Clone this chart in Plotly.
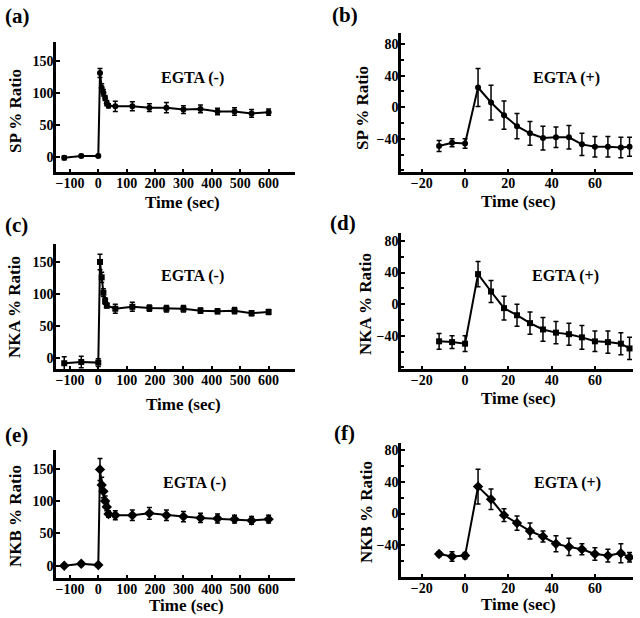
import plotly.graph_objects as go

# ---------------- data ----------------
t_left_a = [-120, -60, 0, 6, 12, 18, 24, 30, 36, 60, 120, 180, 240, 300, 360, 420, 480, 540, 600]
sp_minus = [-1, 2, 2, 131, 108, 100, 92, 84, 80, 79, 79, 77, 77, 74, 75, 71, 71, 68, 70]
sp_minus_err = [3, 2, 2, 7, 6, 5, 4, 4, 3, 8, 7, 6, 8, 6, 6, 5, 6, 6, 5]

t_left_c = [-120, -60, 0, 6, 12, 18, 24, 30, 60, 120, 180, 240, 300, 360, 420, 480, 540, 600]
nka_minus = [-8, -6, -7, 150, 126, 102, 89, 82, 77, 80, 78, 77, 77, 74, 73, 74, 70, 72]
nka_minus_err = [10, 9, 6, 12, 8, 6, 5, 4, 7, 7, 5, 5, 5, 4, 4, 5, 4, 4]

t_left_e = [-120, -60, 0, 6, 12, 18, 24, 30, 36, 60, 120, 180, 240, 300, 360, 420, 480, 540, 600]
nkb_minus = [0, 3, 1, 149, 125, 115, 100, 91, 80, 78, 78, 81, 78, 76, 74, 73, 72, 70, 72]
nkb_minus_err = [2, 3, 3, 17, 12, 10, 8, 6, 5, 7, 8, 9, 8, 8, 7, 7, 6, 6, 6]

t_right = [-12, -6, 0, 6, 12, 18, 24, 30, 36, 42, 48, 54, 60, 66, 72, 76]
sp_plus = [-49, -45, -46, 25, 6, -10, -24, -33, -39, -38, -38, -47, -50, -50, -51, -50]
sp_plus_err = [7, 5, 6, 24, 22, 18, 16, 15, 15, 13, 15, 14, 13, 13, 13, 12]
nka_plus = [-47, -48, -50, 38, 16, -5, -14, -24, -32, -36, -38, -42, -47, -48, -50, -56]
nka_plus_err = [10, 8, 10, 16, 14, 15, 14, 14, 15, 14, 14, 15, 13, 14, 14, 14]
nkb_plus = [-51, -54, -53, 34, 18, -2, -12, -22, -29, -38, -42, -45, -51, -53, -50, -55]
nkb_plus_err = [3, 6, 4, 22, 13, 8, 9, 10, 7, 10, 11, 7, 8, 8, 12, 6]

left_xticks = [-100, 0, 100, 200, 300, 400, 500, 600]
right_xticks = [-20, 0, 20, 40, 60]
left_yticks = [0, 50, 100, 150]
right_yticks = [-40, 0, 40, 80]

panel_labels = ["(a)", "(b)", "(c)", "(d)", "(e)", "(f)"]
y_titles = ["SP % Ratio", "SP % Ratio", "NKA % Ratio", "NKA % Ratio", "NKB % Ratio", "NKB % Ratio"]
cond_labels = ["EGTA (-)", "EGTA (+)", "EGTA (-)", "EGTA (+)", "EGTA (-)", "EGTA (+)"]
x_title = "Time (sec)"

# ---------------- layout helpers ----------------
W, H = 640, 618
FONT = "Liberation Serif, Times New Roman, serif"


def px_x(p):
    return p / W


def px_y(p):
    return 1 - p / H


# pixel geometry of each panel: (left, right, top, bottom)
geom = [
    (56, 295, 42, 172),
    (401, 633, 33, 172),
    (56, 295, 244, 369),
    (401, 633, 233, 369),
    (56, 295, 450, 578),
    (401, 633, 443, 577),
]
xranges = [[-149, 693], [-29.6, 77.6]] * 3
yranges = [[-23, 179], [-82, 94], [-17, 178], [-82, 90], [-19, 179], [-80, 89]]

series = [
    (t_left_a, sp_minus, sp_minus_err, "circle", 6),
    (t_right, sp_plus, sp_plus_err, "circle", 6),
    (t_left_c, nka_minus, nka_minus_err, "square", 6),
    (t_right, nka_plus, nka_plus_err, "square", 6),
    (t_left_e, nkb_minus, nkb_minus_err, "diamond", 8),
    (t_right, nkb_plus, nkb_plus_err, "diamond", 8),
]

# text positions (pixel centres)
label_pos = [(3, 16), (330, 15), (3, 225), (328, 223), (3, 435), (332, 433)]
ytitle_pos = [(15, 111), (362, 108), (15, 307), (366, 304), (15, 516), (366, 512)]
xtitle_pos = [(182, 202), (518, 201), (183, 404), (518, 398), (186, 605), (518, 604)]
cond_pos = [(192, 78), (566, 78), (192, 276), (565, 276), (194, 483), (567, 483)]

fig = go.Figure()
layout = dict(
    width=W, height=H, margin=dict(l=0, r=0, t=0, b=0),
    paper_bgcolor="white", plot_bgcolor="white", showlegend=False,
    font=dict(family=FONT, color="black", size=14),
)

annotations = []
for i in range(6):
    n = "" if i == 0 else str(i + 1)
    xs, ys, es, sym, msz = series[i]
    fig.add_trace(go.Scatter(
        x=xs, y=ys, mode="lines+markers",
        line=dict(color="black", width=2),
        marker=dict(symbol=sym, size=msz, color="black"),
        error_y=dict(type="data", array=es, visible=True, color="black",
                     thickness=1.5, width=2.5),
        xaxis="x" + n, yaxis="y" + n,
    ))
    l, r, t, b = geom[i]
    right = i % 2 == 1
    layout["xaxis" + n] = dict(
        domain=[px_x(l), px_x(r)], anchor="y" + n, range=xranges[i],
        tickvals=right_xticks if right else left_xticks,
        ticks="inside", ticklen=3, tickwidth=1.5, tickcolor="black",
        showline=True, linecolor="black", linewidth=2.5,
        showgrid=False, zeroline=False,
        ticklabelstandoff=-4,
        tickfont=dict(family=FONT, size=14, weight="bold"),
    )
    ydict = dict(
        domain=[px_y(b), px_y(t)], anchor="x" + n, range=yranges[i],
        tickvals=right_yticks if right else left_yticks,
        ticks="inside", ticklen=4, tickwidth=1.5, tickcolor="black",
        showline=True, linecolor="black", linewidth=2.5,
        showgrid=False, zeroline=False,
        ticklabelstandoff=-3,
        tickfont=dict(family=FONT, size=14, weight="bold"),
    )
    if right:
        ydict["minor"] = dict(dtick=20, tick0=0, ticks="inside", ticklen=3,
                              tickwidth=1.5, tickcolor="black", showgrid=False)
    layout["yaxis" + n] = ydict

    lx, ly = label_pos[i]
    annotations.append(dict(text=panel_labels[i], x=px_x(lx), y=px_y(ly), xref="paper", yref="paper",
                            xanchor="left", yanchor="middle", showarrow=False,
                            font=dict(family=FONT, size=21, weight="bold")))
    tx, ty = ytitle_pos[i]
    annotations.append(dict(text=y_titles[i], x=px_x(tx), y=px_y(ty), xref="paper", yref="paper",
                            xanchor="center", yanchor="middle", showarrow=False, textangle=-90,
                            font=dict(family=FONT, size=17, weight="bold")))
    tx, ty = xtitle_pos[i]
    annotations.append(dict(text=x_title, x=px_x(tx), y=px_y(ty), xref="paper", yref="paper",
                            xanchor="center", yanchor="middle", showarrow=False,
                            font=dict(family=FONT, size=17, weight="bold")))
    tx, ty = cond_pos[i]
    annotations.append(dict(text=cond_labels[i], x=px_x(tx), y=px_y(ty), xref="paper", yref="paper",
                            xanchor="center", yanchor="middle", showarrow=False,
                            font=dict(family=FONT, size=16, weight="bold")))

layout["annotations"] = annotations
fig.update_layout(**layout)
fig.write_html("out.html", config={"displayModeBar": False},
               post_script="document.body.style.margin='0';document.body.style.padding='0';")
